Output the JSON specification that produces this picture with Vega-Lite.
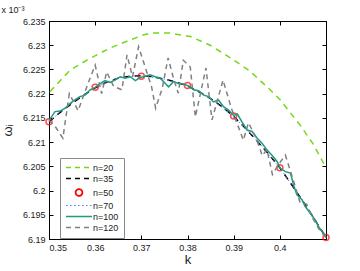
{
  "$schema": "https://vega.github.io/schema/vega-lite/v6.json",
  "autosize": "none",
  "width": 277,
  "height": 218,
  "padding": {"left": 49, "top": 21, "right": 34, "bottom": 32},
  "background": "white",
  "title": {"text": "x 10⁻³", "anchor": "start", "fontSize": 9, "fontWeight": "normal", "font": "Liberation Sans", "color": "#222", "offset": 2},
  "config": {
    "view": {"stroke": "black", "strokeWidth": 1},
    "axis": {"grid": false, "labelFont": "Liberation Sans", "labelFontSize": 9, "labelColor": "#222", "domainColor": "black", "tickColor": "black", "tickSize": -4, "titleFont": "Liberation Sans", "titleFontWeight": "normal", "titleFontSize": 13, "titleColor": "#222"}
  },
  "resolve": {"axis": {"x": "independent", "y": "independent"}},
  "data": {"values": [
    {"k": 0.3502, "w": 6.2204, "n": "n=20"},
    {"k": 0.3546, "w": 6.2249, "n": "n=20"},
    {"k": 0.3589, "w": 6.2273, "n": "n=20"},
    {"k": 0.3632, "w": 6.2294, "n": "n=20"},
    {"k": 0.3676, "w": 6.2311, "n": "n=20"},
    {"k": 0.3704, "w": 6.2321, "n": "n=20"},
    {"k": 0.3719, "w": 6.2325, "n": "n=20"},
    {"k": 0.3762, "w": 6.2325, "n": "n=20"},
    {"k": 0.3806, "w": 6.2318, "n": "n=20"},
    {"k": 0.3849, "w": 6.2300, "n": "n=20"},
    {"k": 0.3893, "w": 6.2274, "n": "n=20"},
    {"k": 0.3936, "w": 6.2246, "n": "n=20"},
    {"k": 0.3979, "w": 6.2208, "n": "n=20"},
    {"k": 0.4001, "w": 6.2187, "n": "n=20"},
    {"k": 0.4044, "w": 6.2135, "n": "n=20"},
    {"k": 0.4073, "w": 6.2095, "n": "n=20"},
    {"k": 0.4100, "w": 6.2047, "n": "n=20"},

    {"k": 0.3500, "w": 6.2142, "n": "n=35"},
    {"k": 0.3525, "w": 6.2162, "n": "n=35"},
    {"k": 0.3550, "w": 6.2180, "n": "n=35"},
    {"k": 0.3575, "w": 6.2197, "n": "n=35"},
    {"k": 0.3600, "w": 6.2212, "n": "n=35"},
    {"k": 0.3625, "w": 6.2224, "n": "n=35"},
    {"k": 0.3650, "w": 6.2232, "n": "n=35"},
    {"k": 0.3675, "w": 6.2236, "n": "n=35"},
    {"k": 0.3700, "w": 6.2237, "n": "n=35"},
    {"k": 0.3725, "w": 6.2235, "n": "n=35"},
    {"k": 0.3750, "w": 6.2230, "n": "n=35"},
    {"k": 0.3775, "w": 6.2224, "n": "n=35"},
    {"k": 0.3800, "w": 6.2216, "n": "n=35"},
    {"k": 0.3825, "w": 6.2204, "n": "n=35"},
    {"k": 0.3850, "w": 6.2190, "n": "n=35"},
    {"k": 0.3875, "w": 6.2173, "n": "n=35"},
    {"k": 0.3900, "w": 6.2153, "n": "n=35"},
    {"k": 0.3925, "w": 6.2129, "n": "n=35"},
    {"k": 0.3950, "w": 6.2103, "n": "n=35"},
    {"k": 0.3975, "w": 6.2076, "n": "n=35"},
    {"k": 0.4000, "w": 6.2047, "n": "n=35"},
    {"k": 0.4025, "w": 6.2013, "n": "n=35"},
    {"k": 0.4050, "w": 6.1978, "n": "n=35"},
    {"k": 0.4075, "w": 6.1941, "n": "n=35"},
    {"k": 0.4100, "w": 6.1903, "n": "n=35"},

    {"k": 0.35, "w": 6.2142, "n": "n=50"},
    {"k": 0.36, "w": 6.2213, "n": "n=50"},
    {"k": 0.37, "w": 6.2236, "n": "n=50"},
    {"k": 0.38, "w": 6.2217, "n": "n=50"},
    {"k": 0.39, "w": 6.2154, "n": "n=50"},
    {"k": 0.40, "w": 6.2047, "n": "n=50"},
    {"k": 0.41, "w": 6.1903, "n": "n=50"},

    {"k": 0.3500, "w": 6.2143, "n": "n=70"},
    {"k": 0.3550, "w": 6.2181, "n": "n=70"},
    {"k": 0.3600, "w": 6.2213, "n": "n=70"},
    {"k": 0.3650, "w": 6.2233, "n": "n=70"},
    {"k": 0.3700, "w": 6.2237, "n": "n=70"},
    {"k": 0.3750, "w": 6.2230, "n": "n=70"},
    {"k": 0.3800, "w": 6.2216, "n": "n=70"},
    {"k": 0.3850, "w": 6.2190, "n": "n=70"},
    {"k": 0.3900, "w": 6.2153, "n": "n=70"},
    {"k": 0.3950, "w": 6.2104, "n": "n=70"},
    {"k": 0.4000, "w": 6.2047, "n": "n=70"},
    {"k": 0.4050, "w": 6.1978, "n": "n=70"},
    {"k": 0.4100, "w": 6.1903, "n": "n=70"},

    {"k": 0.3500, "w": 6.2145, "n": "n=100"},
    {"k": 0.3513, "w": 6.2163, "n": "n=100"},
    {"k": 0.3524, "w": 6.2164, "n": "n=100"},
    {"k": 0.3535, "w": 6.2170, "n": "n=100"},
    {"k": 0.3546, "w": 6.2180, "n": "n=100"},
    {"k": 0.3556, "w": 6.2187, "n": "n=100"},
    {"k": 0.3567, "w": 6.2194, "n": "n=100"},
    {"k": 0.3578, "w": 6.2197, "n": "n=100"},
    {"k": 0.3589, "w": 6.2208, "n": "n=100"},
    {"k": 0.3600, "w": 6.2213, "n": "n=100"},
    {"k": 0.3611, "w": 6.2221, "n": "n=100"},
    {"k": 0.3621, "w": 6.2227, "n": "n=100"},
    {"k": 0.3632, "w": 6.2223, "n": "n=100"},
    {"k": 0.3643, "w": 6.2228, "n": "n=100"},
    {"k": 0.3654, "w": 6.2235, "n": "n=100"},
    {"k": 0.3665, "w": 6.2232, "n": "n=100"},
    {"k": 0.3676, "w": 6.2235, "n": "n=100"},
    {"k": 0.3687, "w": 6.2227, "n": "n=100"},
    {"k": 0.3697, "w": 6.2233, "n": "n=100"},
    {"k": 0.3708, "w": 6.2236, "n": "n=100"},
    {"k": 0.3719, "w": 6.2239, "n": "n=100"},
    {"k": 0.3730, "w": 6.2235, "n": "n=100"},
    {"k": 0.3741, "w": 6.2232, "n": "n=100"},
    {"k": 0.3752, "w": 6.2221, "n": "n=100"},
    {"k": 0.3759, "w": 6.2214, "n": "n=100"},
    {"k": 0.3770, "w": 6.2225, "n": "n=100"},
    {"k": 0.3780, "w": 6.2221, "n": "n=100"},
    {"k": 0.3791, "w": 6.2220, "n": "n=100"},
    {"k": 0.3802, "w": 6.2216, "n": "n=100"},
    {"k": 0.3813, "w": 6.2208, "n": "n=100"},
    {"k": 0.3824, "w": 6.2206, "n": "n=100"},
    {"k": 0.3835, "w": 6.2197, "n": "n=100"},
    {"k": 0.3846, "w": 6.2194, "n": "n=100"},
    {"k": 0.3856, "w": 6.2183, "n": "n=100"},
    {"k": 0.3867, "w": 6.2187, "n": "n=100"},
    {"k": 0.3878, "w": 6.2173, "n": "n=100"},
    {"k": 0.3889, "w": 6.2166, "n": "n=100"},
    {"k": 0.3900, "w": 6.2155, "n": "n=100"},
    {"k": 0.3908, "w": 6.2158, "n": "n=100"},
    {"k": 0.3918, "w": 6.2142, "n": "n=100"},
    {"k": 0.3929, "w": 6.2125, "n": "n=100"},
    {"k": 0.3940, "w": 6.2122, "n": "n=100"},
    {"k": 0.3951, "w": 6.2108, "n": "n=100"},
    {"k": 0.3961, "w": 6.2098, "n": "n=100"},
    {"k": 0.3972, "w": 6.2084, "n": "n=100"},
    {"k": 0.3983, "w": 6.2073, "n": "n=100"},
    {"k": 0.3994, "w": 6.2060, "n": "n=100"},
    {"k": 0.4001, "w": 6.2046, "n": "n=100"},
    {"k": 0.4012, "w": 6.2039, "n": "n=100"},
    {"k": 0.4023, "w": 6.2036, "n": "n=100"},
    {"k": 0.4030, "w": 6.2011, "n": "n=100"},
    {"k": 0.4037, "w": 6.1991, "n": "n=100"},
    {"k": 0.4048, "w": 6.1981, "n": "n=100"},
    {"k": 0.4055, "w": 6.1967, "n": "n=100"},
    {"k": 0.4066, "w": 6.1953, "n": "n=100"},
    {"k": 0.4077, "w": 6.1939, "n": "n=100"},
    {"k": 0.4084, "w": 6.1925, "n": "n=100"},
    {"k": 0.4095, "w": 6.1912, "n": "n=100"},
    {"k": 0.4100, "w": 6.1903, "n": "n=100"},

    {"k": 0.3500, "w": 6.2145, "n": "n=120"},
    {"k": 0.3515, "w": 6.2130, "n": "n=120"},
    {"k": 0.3530, "w": 6.2108, "n": "n=120"},
    {"k": 0.3544, "w": 6.2200, "n": "n=120"},
    {"k": 0.3563, "w": 6.2165, "n": "n=120"},
    {"k": 0.3585, "w": 6.2222, "n": "n=120"},
    {"k": 0.3600, "w": 6.2259, "n": "n=120"},
    {"k": 0.3614, "w": 6.2200, "n": "n=120"},
    {"k": 0.3625, "w": 6.2245, "n": "n=120"},
    {"k": 0.3640, "w": 6.2215, "n": "n=120"},
    {"k": 0.3658, "w": 6.2208, "n": "n=120"},
    {"k": 0.3669, "w": 6.2280, "n": "n=120"},
    {"k": 0.3681, "w": 6.2235, "n": "n=120"},
    {"k": 0.3694, "w": 6.2297, "n": "n=120"},
    {"k": 0.3710, "w": 6.2250, "n": "n=120"},
    {"k": 0.3722, "w": 6.2215, "n": "n=120"},
    {"k": 0.3731, "w": 6.2170, "n": "n=120"},
    {"k": 0.3745, "w": 6.2210, "n": "n=120"},
    {"k": 0.3758, "w": 6.2274, "n": "n=120"},
    {"k": 0.3770, "w": 6.2230, "n": "n=120"},
    {"k": 0.3780, "w": 6.2201, "n": "n=120"},
    {"k": 0.3791, "w": 6.2269, "n": "n=120"},
    {"k": 0.3806, "w": 6.2255, "n": "n=120"},
    {"k": 0.3817, "w": 6.2152, "n": "n=120"},
    {"k": 0.3840, "w": 6.2253, "n": "n=120"},
    {"k": 0.3853, "w": 6.2146, "n": "n=120"},
    {"k": 0.3877, "w": 6.2228, "n": "n=120"},
    {"k": 0.3895, "w": 6.2170, "n": "n=120"},
    {"k": 0.3921, "w": 6.2104, "n": "n=120"},
    {"k": 0.3932, "w": 6.2140, "n": "n=120"},
    {"k": 0.3948, "w": 6.2110, "n": "n=120"},
    {"k": 0.3962, "w": 6.2072, "n": "n=120"},
    {"k": 0.3972, "w": 6.2085, "n": "n=120"},
    {"k": 0.3984, "w": 6.2033, "n": "n=120"},
    {"k": 0.3998, "w": 6.2055, "n": "n=120"},
    {"k": 0.4012, "w": 6.2073, "n": "n=120"},
    {"k": 0.4028, "w": 6.2025, "n": "n=120"},
    {"k": 0.4044, "w": 6.1975, "n": "n=120"},
    {"k": 0.4058, "w": 6.1972, "n": "n=120"},
    {"k": 0.4070, "w": 6.1945, "n": "n=120"},
    {"k": 0.4085, "w": 6.1920, "n": "n=120"},
    {"k": 0.4100, "w": 6.1903, "n": "n=120"}
  ]},
  "encoding": {
    "x": {"field": "k", "type": "quantitative",
      "scale": {"domain": [0.35, 0.41], "nice": false, "zero": false}, "axis": null},
    "y": {"field": "w", "type": "quantitative",
      "scale": {"domain": [6.19, 6.235], "nice": false, "zero": false}, "axis": null},
    "color": {"field": "n", "type": "nominal",
      "scale": {"domain": ["n=20", "n=35", "n=50", "n=70", "n=100", "n=120"], "range": ["#72d91a", "#000000", "#ff0000", "#5a78ff", "#1c9c7c", "#808080"]},
      "legend": {"title": null, "orient": "none", "legendX": 11, "legendY": 137, "symbolType": "M-1,0H1", "labelFont": "Liberation Sans", "labelFontSize": 9, "labelColor": "#222", "strokeColor": "#888", "fillColor": "white", "padding": 5, "rowPadding": 1.0, "symbolStrokeWidth": 1.5,
        "encode": {
          "symbols": {"update": {
            "x": {"value": 14},
            "shape": {"signal": "datum.value === 'n=50' ? 'M-0.26,0A0.26,0.26,0,1,0,0.26,0A0.26,0.26,0,1,0,-0.26,0Z' : 'M-1,0H1'"},
            "size": {"value": 676},
            "fill": {"value": "transparent"},
            "strokeWidth": {"signal": "datum.value === 'n=70' ? 1 : datum.value === 'n=50' ? 1.8 : 1.5"},
            "strokeDash": {"signal": "datum.value === 'n=70' ? [1.5, 2.5] : (datum.value === 'n=100' || datum.value === 'n=50') ? [1, 0] : [5, 4]"}
          }},
          "labels": {"update": {"x": {"value": 28}}}
        }}
    }
  },
  "layer": [
    {"transform": [{"filter": "datum.n === 'n=20'"}], "mark": {"type": "line", "strokeWidth": 1.5, "strokeDash": [6, 5]},
      "encoding": {
        "x": {"field": "k", "type": "quantitative", "axis": {"orient": "top", "values": [0.35, 0.36, 0.37, 0.38, 0.39, 0.40, 0.41], "labels": false, "domain": false, "title": null}},
        "y": {"field": "w", "type": "quantitative", "axis": {"orient": "right", "values": [6.19, 6.195, 6.2, 6.205, 6.21, 6.215, 6.22, 6.225, 6.23, 6.235], "labels": false, "domain": false, "title": null}}
      }},
    {"transform": [{"filter": "datum.n === 'n=35'"}], "mark": {"type": "line", "strokeWidth": 1.5, "strokeDash": [6, 5]},
      "encoding": {
        "x": {"field": "k", "type": "quantitative", "axis": {"orient": "bottom", "values": [0.35, 0.36, 0.37, 0.38, 0.39, 0.40, 0.41], "format": "~g", "labelExpr": "datum.value > 0.405 ? '' : datum.label", "title": "k", "labelPadding": 8, "titlePadding": 1}},
        "y": {"field": "w", "type": "quantitative", "axis": {"orient": "left", "values": [6.19, 6.195, 6.2, 6.205, 6.21, 6.215, 6.22, 6.225, 6.23, 6.235], "format": "~g", "title": "ωᵢ", "labelPadding": 8, "titlePadding": 8}}
      }},
    {"transform": [{"filter": "datum.n === 'n=50'"}], "mark": {"type": "point", "shape": "circle", "size": 36, "filled": false, "strokeWidth": 1.5}},
    {"transform": [{"filter": "datum.n === 'n=70'"}], "mark": {"type": "line", "strokeWidth": 1, "strokeDash": [1.5, 2.5]}},
    {"transform": [{"filter": "datum.n === 'n=100'"}], "mark": {"type": "line", "strokeWidth": 1.5}},
    {"transform": [{"filter": "datum.n === 'n=120'"}], "mark": {"type": "line", "strokeWidth": 1.5, "strokeDash": [5, 4]}}
  ]
}
